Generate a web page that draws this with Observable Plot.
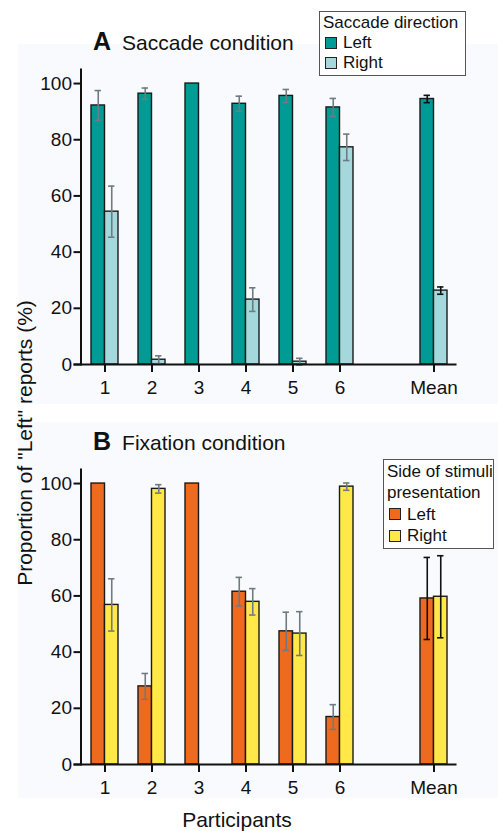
<!DOCTYPE html>
<html>
<head>
<meta charset="utf-8">
<script src="https://cdn.jsdelivr.net/npm/d3@7"></script>
<script src="https://cdn.jsdelivr.net/npm/@observablehq/plot@0.6"></script>
<style>
  html, body { margin: 0; padding: 0; background: #ffffff; }
  body { width: 498px; height: 831px; position: relative; overflow: hidden;
         font-family: "Liberation Sans", Arial, sans-serif; color: #111; }
  .bg { position: absolute; left: 18px; width: 480px; background: #f9fafd; }
  .panel { position: absolute; left: 0; }
  .panel svg { stroke-width: 2; }
  .title { position: absolute; left: 93px; white-space: nowrap; font-size: 21px; line-height: 1; }
  .title b { font-size: 25px; margin-right: 11px; }
  .legend { position: absolute; border: 1px solid #555; background: #fff; font-size: 17px;
            line-height: 20px; box-sizing: border-box; }
  .legend .row { display: flex; align-items: center; }
  .legend .sw { width: 12px; height: 12px; border: 1.4px solid #222; box-sizing: border-box; margin-right: 6px; margin-left: 5px; }
  .ylab { position: absolute; font-size: 21px; white-space: nowrap; transform: translate(-50%, -50%) rotate(-90deg); left: 25px; top: 443px; }
  .xlab { position: absolute; font-size: 21px; white-space: nowrap; transform: translateX(-50%); left: 237px; top: 808px; }
</style>
</head>
<body>
<div class="bg" style="top:44px;height:360px"></div>
<div class="bg" style="top:422px;height:376px"></div>
<div id="a" class="panel" style="top:0px"></div>
<div id="b" class="panel" style="top:400px"></div>
<div class="title" style="top:29px"><b>A</b>Saccade condition</div>
<div class="title" style="top:429px"><b>B</b>Fixation condition</div>
<div id="legA" class="legend" style="left:319px;top:11px;width:147px;height:65px;padding-top:1px"></div>
<div id="legB" class="legend" style="left:383px;top:459px;width:111px;height:90px;padding-top:1px;line-height:21.3px"></div>
<div class="ylab">Proportion of "Left" reports (%)</div>
<div class="xlab">Participants</div>
<script>
// ---- data ----
const participants = ["1", "2", "3", "4", "5", "6", "Mean"];
const xSlots = ["1", "2", "3", "4", "5", "6", "", "Mean"];
const yTicks = [0, 20, 40, 60, 80, 100];

const saccadeLeft     = [92.2, 96.4, 100, 92.8, 95.6, 91.5, 94.5];
const saccadeLeftErr  = [5.3, 2.0, null, 2.7, 2.3, 3.2, 1.3];
const saccadeRight    = [54.4, 1.7, 0, 23.1, 1.0, 77.3, 26.3];
const saccadeRightErr = [9.1, 1.4, null, 4.2, 1.2, 4.7, 1.3];

const fixationLeft     = [100, 27.8, 100, 61.5, 47.4, 16.9, 59.1];
const fixationLeftErr  = [null, 4.6, null, 5.1, 6.8, 4.4, 14.6];
const fixationRight    = [56.8, 98.1, 0, 57.9, 46.6, 98.9, 59.7];
const fixationRightErr = [9.3, 1.5, null, 4.7, 7.8, 1.3, 14.6];

const saccadeColors  = ["#009b95", "#a5d8dc"];
const fixationColors = ["#ee6a1e", "#ffe847"];
const saccadeLegend  = { title: ["Saccade direction"], labels: ["Left", "Right"] };
const fixationLegend = { title: ["Side of stimuli", "presentation"], labels: ["Left", "Right"] };

function rows(vals, errs, side) {
  return participants.map((p, i) => ({ p, v: vals[i], e: errs[i], side, lo: errs[i] == null ? null : vals[i] - errs[i], hi: errs[i] == null ? null : vals[i] + errs[i] }));
}

function panel(left, leftErr, right, rightErr, colors) {
  const L = rows(left, leftErr, "Left");
  const R = rows(right, rightErr, "Right");
  const bw = 13.5, half = 23.5, cap = 3.2;
  const marks = [];
  const errCol = d => d.p === "Mean" ? "#111" : "#6f7b80";
  [[L, colors[0], -1], [R, colors[1], 1]].forEach(([data, col, s]) => {
    marks.push(Plot.barY(data, {
      x: "p", y: "v", fill: col, stroke: "#1a1a1a", strokeWidth: 1.4,
      insetLeft: s < 0 ? half - bw : half, insetRight: s < 0 ? half : half - bw
    }));
    const ed = data.filter(d => d.e != null);
    const c = s * bw / 2;
    marks.push(Plot.ruleX(ed, { x: "p", y1: "lo", y2: "hi", dx: c, stroke: errCol, strokeWidth: 1.6 }));
    marks.push(Plot.tickY(ed, { x: "p", y: "hi", stroke: errCol, strokeWidth: 1.6, insetLeft: half + c - cap, insetRight: half - c - cap }));
    marks.push(Plot.tickY(ed, { x: "p", y: "lo", stroke: errCol, strokeWidth: 1.6, insetLeft: half + c - cap, insetRight: half - c - cap }));
  });
  marks.push(Plot.ruleY([0], { stroke: "#111", strokeWidth: 2, insetLeft: -7 }));
  return Plot.plot({
    width: 498, height: 410,
    marginLeft: 80.5, marginRight: 41.5, marginTop: 69, marginBottom: 46,
    style: { fontSize: "19px", fontFamily: "Liberation Sans, Arial, sans-serif", color: "#111", background: "transparent", overflow: "visible" },
    x: { type: "band", domain: xSlots, padding: 0, ticks: participants, tickSize: 8, tickPadding: 8, label: null },
    y: { domain: [0, 105], ticks: yTicks, tickSize: 7, tickPadding: 2, label: null, line: true },
    marks
  });
}

function legend(el, spec, colors) {
  const box = document.getElementById(el);
  spec.title.forEach(t => { const d = document.createElement("div"); d.textContent = t; d.style.paddingLeft = "3px"; box.appendChild(d); });
  spec.labels.forEach((t, i) => {
    const r = document.createElement("div"); r.className = "row";
    const s = document.createElement("span"); s.className = "sw"; s.style.background = colors[i];
    const l = document.createElement("span"); l.textContent = t;
    r.appendChild(s); r.appendChild(l); box.appendChild(r);
  });
}

document.getElementById("a").appendChild(panel(saccadeLeft, saccadeLeftErr, saccadeRight, saccadeRightErr, saccadeColors));
document.getElementById("b").appendChild(panel(fixationLeft, fixationLeftErr, fixationRight, fixationRightErr, fixationColors));
legend("legA", saccadeLegend, saccadeColors);
legend("legB", fixationLegend, fixationColors);
</script>
</body>
</html>
